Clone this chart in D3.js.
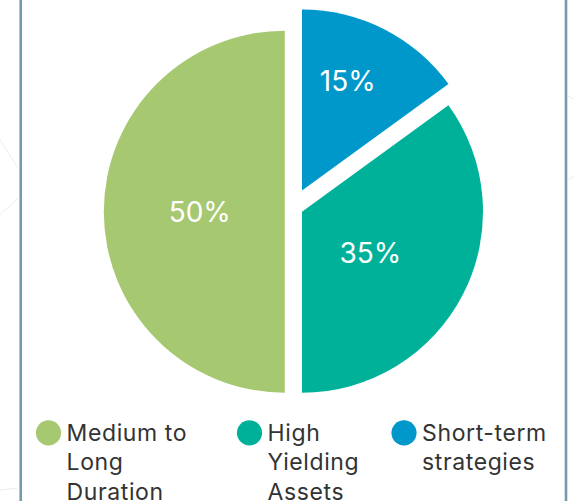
<!DOCTYPE html>
<html>
<head>
<meta charset="utf-8">
<script src="https://cdn.jsdelivr.net/npm/d3@7"></script>
<style>
  html, body { margin: 0; padding: 0; background: #ffffff; }
  svg { display: block; }
</style>
</head>
<body>
<svg id="chart" width="574" height="501"></svg>
<script>
// Allocation split, in drawing order clockwise from 12 o'clock
const categories = ["Short-term strategies", "High Yielding Assets", "Medium to Long Duration"];
const shares = [15, 35, 50];
const sliceColors = ["#0097ca", "#00b199", "#a6c871"];
// Legend order (left to right)
const legendOrder = ["Medium to Long Duration", "High Yielding Assets", "Short-term strategies"];

const W = 574, H = 501;
const svg = d3.select("#chart");
svg.append("rect").attr("width", W).attr("height", H).attr("fill", "#ffffff");

// faint background pattern outside the card
const bg = svg.append("g").attr("stroke", "#ececec").attr("stroke-width", 1).attr("fill", "none");
bg.append("path").attr("d", "M0,140 L18,168");
bg.append("path").attr("d", "M0,215 L18,198");
bg.append("path").attr("d", "M0,490 L18,488");
bg.append("path").attr("d", "M568,96 L574,99");
bg.append("path").attr("d", "M568,180 L574,176");

// card side rules
const rule = svg.append("g").attr("stroke", "#739cad").attr("stroke-width", 2.6);
rule.append("line").attr("x1", 20.7).attr("x2", 20.7).attr("y1", 0).attr("y2", H);
rule.append("line").attr("x1", 566).attr("x2", 566).attr("y1", 0).attr("y2", H);

// pie geometry
const cx = 293.4, cy = 211.7, R = 181, gap = 17.2;
const color = d3.scaleOrdinal().domain(categories).range(sliceColors);
const pie = d3.pie().sort(null).value(d => d.value).startAngle(0).endAngle(2 * Math.PI);
const arc = d3.arc().innerRadius(0).outerRadius(R);
const data = categories.map((c, i) => ({ name: c, value: shares[i] }));
const arcs = pie(data);

// Separate slices with parallel gaps: split along the vertical diameter,
// then slide the leading right-hand slice up its vertical edge so the
// seam to the next slice keeps the same width.
arcs.forEach((a, i) => {
  const mid = (a.startAngle + a.endAngle) / 2;
  const right = mid < Math.PI;
  a.dx = right ? gap / 2 : -gap / 2;
  a.dy = 0;
  if (i === 0 && a.endAngle < Math.PI) {
    a.dy = -gap / Math.sin(a.endAngle);
  }
});

// label placement within each slice: fraction along the slice's sweep and of the radius
const labelPlace = [{ t: 0.42, r: 0.655 }, { t: 0.53, r: 0.44 }, { t: 0.5, r: 0.47 }];

const g = svg.append("g").attr("transform", `translate(${cx},${cy})`);
const slice = g.selectAll("g.slice").data(arcs).enter().append("g")
  .attr("class", "slice")
  .attr("transform", d => `translate(${d.dx},${d.dy})`);

slice.append("path")
  .attr("d", arc)
  .attr("fill", d => color(d.data.name));

slice.append("text")
  .attr("transform", (d, i) => {
    const p = labelPlace[i];
    const ang = d.startAngle + p.t * (d.endAngle - d.startAngle);
    const r = p.r * R;
    return `translate(${r * Math.sin(ang)},${-r * Math.cos(ang)})`;
  })
  .attr("text-anchor", "middle")
  .attr("dy", "0.36em")
  .attr("fill", "#ffffff")
  .style("font-family", "Inter, 'Noto Sans', sans-serif")
  .style("font-size", "28px")
  .text(d => d.value + "%");

// legend
const legendX = [48.5, 249.5, 404];
const legendY = 432.8, dotR = 12.6, lineH = 29.5, wrapW = 135;
const legend = svg.append("g")
  .style("font-family", "Inter, 'Noto Sans', sans-serif")
  .style("font-size", "23px")
  .style("letter-spacing", "0.6px");

legendOrder.forEach((name, i) => {
  const item = legend.append("g").attr("transform", `translate(${legendX[i]},${legendY})`);
  item.append("circle").attr("r", dotR).attr("fill", color(name));
  const tx = dotR + 5.5;
  const text = item.append("text").attr("x", tx).attr("y", 0).attr("fill", "#333333");
  // word-wrap to the column width
  const words = name.split(" ");
  let line = [];
  let tspan = text.append("tspan").attr("x", tx).attr("dy", "0.35em");
  words.forEach(w => {
    line.push(w);
    tspan.text(line.join(" "));
    if (tspan.node().getComputedTextLength() > wrapW && line.length > 1) {
      line.pop();
      tspan.text(line.join(" "));
      line = [w];
      tspan = text.append("tspan").attr("x", tx).attr("dy", lineH).text(w);
    }
  });
});
</script>
</body>
</html>
